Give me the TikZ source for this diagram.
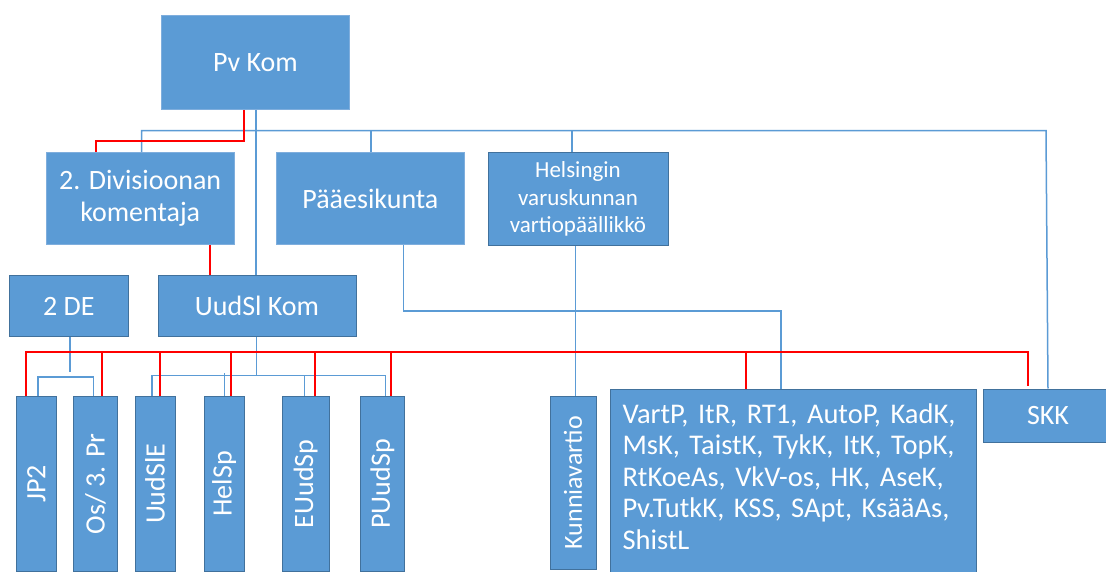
\documentclass[tikz,border=0pt]{standalone}
\usepackage{fontspec}
\setmainfont{Carlito}
\definecolor{boxfill}{HTML}{5B9BD5}
\definecolor{boxedge}{HTML}{41719C}
\definecolor{boxlight}{HTML}{7FAEDD}
\definecolor{lineblue}{HTML}{5B9BD5}
\definecolor{linered}{HTML}{FF0000}
\tikzset{
  orgbox/.style={draw=boxedge, line width=1pt, fill=boxfill, text=white, inner sep=0pt, align=center,
    font=\fontsize{28}{32}\selectfont},
  orgboxlight/.style={orgbox, draw=boxlight},
  vlabel/.style={text=white, rotate=90, inner sep=0pt, font=\fontsize{28}{32}\selectfont},
  bl/.style={draw=lineblue, line width=1.5pt},
  rd/.style={draw=linered, line width=2pt},
}
\begin{document}
\begin{tikzpicture}[x=1pt,y=-1pt]
\clip (0,0) rectangle (1106,572);
\fill[white] (0,0) rectangle (1106,572);
% top level
\node[orgboxlight, minimum width=187.6, minimum height=93.6] (pvkom) at (255.5,62.5) {Pv Kom};
% second level
\node[orgboxlight, minimum width=187.6, minimum height=91.6] (div2) at (140.2,198.5) {2. Divisioonan\\komentaja};
\node[orgboxlight, minimum width=187.2, minimum height=91.6] (pe) at (370.4,198.5) {Pääesikunta};
\node[orgbox, minimum width=180, minimum height=93, font=\fontsize{23}{27.5}\selectfont] (hel) at (578,199.2) {Helsingin\\varuskunnan\\vartiopäällikkö};
% third level
\node[orgbox, minimum width=119.6, minimum height=61] (de2) at (68.8,306.2) {2 DE};
\node[orgbox, minimum width=198, minimum height=61] (uud) at (257,306.2) {UudSl Kom};
% bottom level boxes
\node[orgbox, minimum width=40, minimum height=174.4] (jp2) at (36.4,483.8) {};
\node[orgbox, minimum width=44.7, minimum height=174.4] (os) at (95.55,483.8) {};
\node[orgbox, minimum width=40, minimum height=174.4] (uudsle) at (155,483.8) {};
\node[orgbox, minimum width=39.7, minimum height=174.4] (helsp) at (224.15,483.8) {};
\node[orgbox, minimum width=46.5, minimum height=174.4] (euudsp) at (305.75,483.8) {};
\node[orgbox, minimum width=43.3, minimum height=174.4] (puudsp) at (382.35,483.8) {};
\node[orgbox, minimum width=46, minimum height=172.4] (kunnia) at (573,482.8) {};
\node[orgbox, minimum width=366.4, minimum height=195] (vartp) at (793.6,487.3) {};
\node[orgbox, minimum width=130, minimum height=53.7] (skk) at (1048,415.85) {SKK};
% rotated labels
\node[vlabel] (jp2t) at (jp2) {JP2};
\node[vlabel] (ost) at (os) {Os/ 3. Pr};
\node[vlabel] (uudslet) at (uudsle) {UudSlE};
\node[vlabel] (helspt) at (helsp) {HelSp};
\node[vlabel] (euudspt) at (euudsp) {EUudSp};
\node[vlabel] (puudspt) at (puudsp) {PUudSp};
\node[vlabel, font=\fontsize{26}{32}\selectfont] (kunniat) at (kunnia) {Kunniavartio};
\node[text=white, anchor=north west, inner sep=0pt, text width=350, align=left,
  font=\fontsize{28.5}{31.4}\selectfont] (vartpt) at (622.3,403.5)
  {VartP, ItR, RT1, AutoP, KadK,\\MsK, TaistK, TykK, ItK, TopK,\\RtKoeAs, VkV-os, HK, AseK,\\Pv.TutkK, KSS, SApt, KsääAs,\\ShistL};
% ---- blue connectors
\draw[bl] (256,0 |- pvkom.south) -- (256,0 |- uud.north);
\draw[bl] (141.7,0 |- div2.north) -- (141.7,130.7) -- (1046,130.7) -- (1048,0 |- skk.north);
\draw[bl] (371,0 |- pe.north) -- (371,130.7);
\draw[bl] (571.8,0 |- hel.north) -- (571.8,130.7);
\draw[bl] (70,0 |- de2.south) -- (70,372);
\draw[bl] (37.9,0 |- jp2.north) -- (37.9,377) -- (93.6,377) -- (93.6,0 |- os.north);
\draw[bl] (256.4,0 |- uud.south) -- (256.4,375.4);
\draw[bl] (151.8,0 |- uudsle.north) -- (151.8,375.4) -- (385.7,375.4) -- (385.7,0 |- puudsp.north);
\draw[bl] (224.3,0 |- helsp.north) -- (224.3,373);
\draw[bl] (304.3,0 |- euudsp.north) -- (304.3,375.4);
\draw[bl] (403.6,0 |- pe.south) -- (403.6,311) -- (781,311) -- (781,0 |- vartp.north);
\draw[bl] (575.4,0 |- hel.south) -- (575.4,0 |- kunnia.north);
% ---- red connectors
\draw[rd] (244,0 |- pvkom.south) -- (244,141) -- (96.4,141) -- (96.4,0 |- div2.north);
\draw[rd] (210,0 |- div2.south) -- (210,0 |- uud.north);
\draw[rd, shorten >=2.5pt] (25.7,0 |- jp2.north) -- (25.7,352.3) -- (1028,352.3) -- (1028,0 |- skk.north);
\draw[rd] (101.8,352.3) -- (101.8,0 |- os.north);
\draw[rd] (160.4,352.3) -- (160.4,0 |- uudsle.north);
\draw[rd] (231.4,352.3) -- (231.4,0 |- helsp.north);
\draw[rd] (314.6,352.3) -- (314.6,0 |- euudsp.north);
\draw[rd] (391,352.3) -- (391,0 |- puudsp.north);
\draw[rd] (745.8,352.3) -- (745.8,0 |- vartp.north);
\end{tikzpicture}
\end{document}
